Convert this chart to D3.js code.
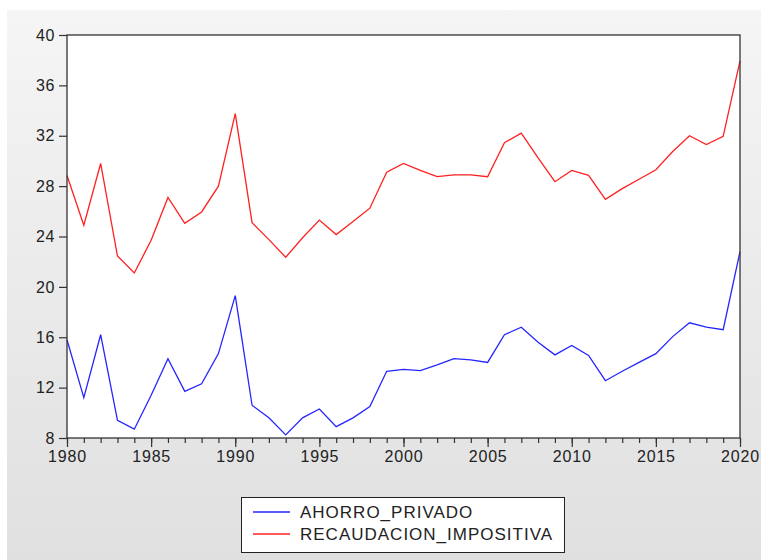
<!DOCTYPE html>
<html><head><meta charset="utf-8">
<script src="https://cdn.jsdelivr.net/npm/d3@7"></script>
<style>html,body{margin:0;padding:0;background:#fff;}svg{display:block;}</style>
</head><body>
<script>
const years = d3.range(1980, 2021);
const ahorroPrivado = [15.8,11.2,16.2,9.4,8.7,11.4,14.3,11.7,12.3,14.7,19.3,10.6,9.6,8.25,9.6,10.3,8.9,9.6,10.5,13.3,13.45,13.35,13.8,14.3,14.2,14.0,16.2,16.8,15.6,14.6,15.35,14.55,12.55,13.3,14.0,14.7,16.05,17.15,16.8,16.6,22.8];
const recaudacionImpositiva = [28.85,24.9,29.8,22.45,21.1,23.7,27.1,25.05,25.95,28.0,33.75,25.1,23.75,22.35,23.9,25.3,24.15,25.2,26.25,29.1,29.8,29.25,28.75,28.9,28.9,28.75,31.45,32.2,30.25,28.35,29.25,28.85,26.95,27.8,28.55,29.3,30.75,32.0,31.3,31.95,37.95];
const yTicks = [8,12,16,20,24,28,32,36,40];
const xTickLabels = [1980,1985,1990,1995,2000,2005,2010,2015,2020];
const seriesNames = ["AHORRO_PRIVADO","RECAUDACION_IMPOSITIVA"];
const seriesColors = ["#2525ff","#ff2020"];

const W = 761, H = 560;
const L = 67, R = 740, T = 35, B = 438;
const svg = d3.select("body").append("svg").attr("width", W).attr("height", H);
const defs = svg.append("defs");
const grad = defs.append("linearGradient").attr("id","bg").attr("x1",0).attr("y1",0).attr("x2",0).attr("y2",1);
grad.append("stop").attr("offset","0%").attr("stop-color","#f5f5f5");
grad.append("stop").attr("offset","100%").attr("stop-color","#e0e0e0");
svg.append("rect").attr("width",W).attr("height",H).attr("fill","#fff");
svg.append("rect").attr("x",7).attr("y",10).attr("width",W-7).attr("height",H-10).attr("fill","url(#bg)");

const x = d3.scaleLinear().domain([1980,2020]).range([L,R]);
const y = d3.scaleLinear().domain([8,40]).range([B,T]);

svg.append("rect").attr("x",L).attr("y",T).attr("width",R-L).attr("height",B-T).attr("fill","#fff");

const font = "'Liberation Sans', Arial, sans-serif";
// y axis
const ya = svg.append("g").attr("transform",`translate(${L},0)`)
  .call(d3.axisLeft(y).tickValues(yTicks).tickSize(8).tickPadding(4).tickFormat(d3.format("d")));
ya.select(".domain").remove();
ya.selectAll("line").attr("stroke","#333").attr("stroke-width",1.2);
ya.selectAll("text").attr("font-family",font).attr("font-size",16).attr("letter-spacing",0.6).attr("fill","#222");

// x axis minor
const xm = svg.append("g").attr("transform",`translate(0,${B})`)
  .call(d3.axisBottom(x).tickValues(years).tickSize(5).tickFormat(""));
xm.select(".domain").remove();
xm.selectAll("line").attr("stroke","#333").attr("stroke-width",1.2);
const xa = svg.append("g").attr("transform",`translate(0,${B})`)
  .call(d3.axisBottom(x).tickValues(xTickLabels).tickSize(9).tickPadding(4).tickFormat(d3.format("d")));
xa.select(".domain").remove();
xa.selectAll("line").attr("stroke","#333").attr("stroke-width",1.2);
xa.selectAll("text").attr("font-family",font).attr("font-size",16).attr("letter-spacing",0.8).attr("fill","#222");

// lines
const line = d3.line().x((d,i)=>x(years[i])).y(d=>y(d));
[ahorroPrivado, recaudacionImpositiva].forEach((s,k)=>{
  svg.append("path").datum(s).attr("d",line).attr("fill","none")
    .attr("stroke",seriesColors[k]).attr("stroke-width",1.3).attr("stroke-linejoin","miter");
});

svg.append("rect").attr("x",L).attr("y",T).attr("width",R-L).attr("height",B-T)
  .attr("fill","none").attr("stroke","#333").attr("stroke-width",1.3);

// legend
const lg = svg.append("g");
lg.append("rect").attr("x",241.5).attr("y",497.5).attr("width",323).attr("height",55)
  .attr("fill","#fff").attr("stroke","#222").attr("stroke-width",1);
seriesNames.forEach((n,k)=>{
  const yy = 512 + k*22;
  lg.append("line").attr("x1",253).attr("x2",290).attr("y1",yy).attr("y2",yy)
    .attr("stroke",seriesColors[k]).attr("stroke-width",1.3);
  lg.append("text").attr("x",300).attr("y",yy+6).text(n)
    .attr("font-family",font).attr("font-size",17).attr("letter-spacing",1).attr("fill","#222");
});
</script>
</body></html>
